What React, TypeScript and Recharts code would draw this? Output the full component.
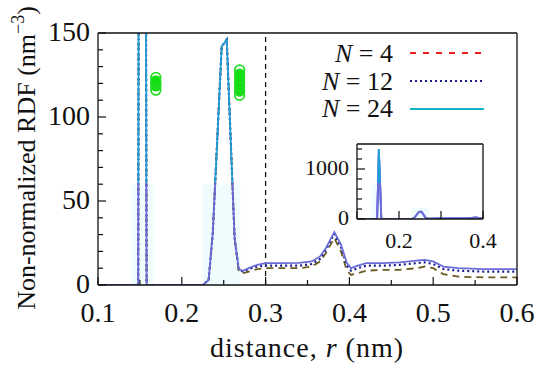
import React from "react";
import {
  ComposedChart,
  Line,
  Scatter,
  XAxis,
  YAxis,
  ReferenceLine,
  ReferenceArea,
} from "recharts";

const FONT = "Liberation Serif, DejaVu Serif, serif";

// r (nm) and RDF values
const rN24 = [0.1, 0.148, 0.152, 0.158, 0.225, 0.232, 0.237, 0.2476, 0.2536, 0.263, 0.268, 0.273, 0.28, 0.29, 0.3, 0.32, 0.34, 0.355, 0.365, 0.372, 0.382, 0.39, 0.397, 0.402, 0.41, 0.42, 0.44, 0.46, 0.48, 0.49, 0.5, 0.512, 0.53, 0.56, 0.6];
const gN24 = [0, 0, 1400, 0, 0, 3, 31, 142, 146, 28, 9.5, 8.5, 10, 12, 13, 13, 13.2, 14, 17, 22, 31.5, 24, 13, 10, 11.5, 13, 13, 13.5, 14.5, 15, 14, 11, 10, 9.5, 9.5];
const rN12 = rN24;
const gN12 = [0, 0, 1390, 0, 0, 3, 31, 142, 146, 28, 9, 8, 9.5, 11, 11.5, 11.5, 11.5, 12.5, 15.5, 21, 30.5, 22.5, 11.5, 8.5, 10, 11.5, 11.5, 12, 13, 13.5, 12.5, 9.5, 8.5, 8, 8];
const rN4 = rN24;
const gN4 = [0, 0, 1380, 0, 0, 3, 31, 142, 146, 27.5, 8, 7, 8, 9.5, 10, 10, 10, 11, 14, 19, 28, 20, 8.5, 6, 7, 8.5, 9, 9, 10, 11, 10, 6.5, 5, 4.5, 4.5];

// green markers
const rOpen = [0.169, 0.169, 0.269, 0.269];
const gOpen = [116, 123.5, 113, 128];
const rFilled = [0.169, 0.169, 0.169, 0.269, 0.269, 0.269, 0.269, 0.269];
const gFilled = [118.5, 120, 121.5, 115.5, 118, 120.5, 123, 125.5];

const xTicks = [0.1, 0.15, 0.2, 0.25, 0.3, 0.35, 0.4, 0.45, 0.5, 0.55, 0.6];
const yTicks = [0, 10, 20, 30, 40, 50, 60, 70, 80, 90, 100, 110, 120, 130, 140, 150];
const insetXTicks = [0.1, 0.2, 0.3, 0.4];
const insetYTicks = [0, 200, 400, 600, 800, 1000, 1200, 1400];

const legendLabels = ["4", "12", "24"];

const pts = (r: number[], g: number[]) => r.map((x, i) => ({ r: x, g: g[i] }));
const n24 = pts(rN24, gN24);
const n12 = pts(rN12, gN12);
const n4 = pts(rN4, gN4);
const openPts = pts(rOpen, gOpen);
const filledPts = pts(rFilled, gFilled);

const isMajorX = (v: number) => Math.abs(v * 10 - Math.round(v * 10)) < 1e-6;

function makeXTick(dir: 1 | -1, size: number, showLabel: (v: number) => boolean, dy: number) {
  return (props: any) => {
    const { x, y, payload } = props;
    const v = payload.value;
    const major = isMajorX(v);
    return (
      <g>
        <line x1={x} x2={x} y1={y} y2={y - dir * (major ? 8 : 5)} stroke="#111" strokeWidth={1.2} />
        {showLabel(v) && (
          <text x={x} y={y + dy} textAnchor="middle" style={{ fontFamily: FONT }} fontSize={size} fill="#111">
            {v.toFixed(1)}
          </text>
        )}
      </g>
    );
  };
}

function makeYTick(dir: 1 | -1, size: number, isMajor: (v: number) => boolean, showLabel: (v: number) => boolean) {
  return (props: any) => {
    const { x, y, payload } = props;
    const v = payload.value;
    return (
      <g>
        <line x1={x} x2={x + dir * (isMajor(v) ? 8 : 5)} y1={y} y2={y} stroke="#111" strokeWidth={1.2} />
        {showLabel(v) && (
          <text x={x - 8} y={y + size * 0.28} textAnchor="end" style={{ fontFamily: FONT }} fontSize={size} fill="#111">
            {v}
          </text>
        )}
      </g>
    );
  };
}

const circle = (filled: boolean) => (props: any) => (
  <circle
    cx={props.cx}
    cy={props.cy}
    r={4.8}
    fill={filled ? "#10e010" : "#fff"}
    stroke="#22dd22"
    strokeWidth={1.8}
  />
);

const axisLine = { stroke: "#111", strokeWidth: 1.3 };
const wrap: React.CSSProperties = { position: "absolute", left: 0, top: 0, width: 550, height: 368 };

function Gradient({ id }: { id: string }) {
  return (
    <defs>
      <linearGradient id={id} x1="0" y1="0" x2="0" y2="368" gradientUnits="userSpaceOnUse">
        <stop offset="0.497" stopColor="#1f9fd8" />
        <stop offset="0.497" stopColor="#6a6cd8" />
      </linearGradient>
    </defs>
  );
}

function MainChart() {
  return (
    <ComposedChart width={550} height={368} margin={{ top: 0, right: 0, bottom: 0, left: 0 }}>
      <Gradient id="g24" />
      <XAxis
        xAxisId={0}
        dataKey="r"
        type="number"
        domain={[0.1, 0.6]}
        ticks={xTicks}
        interval={0}
        height={83}
        tickSize={0}
        tickMargin={0}
        axisLine={axisLine}
        tickLine={false}
        tick={makeXTick(1, 28, isMajorX, 37)}
        allowDataOverflow
      />
      <XAxis
        xAxisId="top"
        orientation="top"
        dataKey="r"
        type="number"
        domain={[0.1, 0.6]}
        ticks={xTicks}
        interval={0}
        height={33}
        tickSize={0}
        tickMargin={0}
        axisLine={axisLine}
        tickLine={false}
        tick={makeXTick(-1, 28, () => false, 0)}
      />
      <YAxis
        yAxisId={0}
        dataKey="g"
        type="number"
        domain={[0, 150]}
        ticks={yTicks}
        interval={0}
        width={98}
        tickSize={0}
        tickMargin={0}
        axisLine={axisLine}
        tickLine={false}
        tick={makeYTick(1, 28, (v) => v % 50 === 0, (v) => v % 50 === 0)}
        allowDataOverflow
      />
      <YAxis
        yAxisId="right"
        orientation="right"
        type="number"
        domain={[0, 150]}
        ticks={yTicks}
        interval={0}
        width={33}
        tickSize={0}
        tickMargin={0}
        axisLine={axisLine}
        tickLine={false}
        tick={makeYTick(-1, 28, (v) => v % 50 === 0, () => false)}
      />
      <ReferenceArea x1={0.14} x2={0.166} y1={0} y2={60} fill="#effcfd" fillOpacity={1} stroke="none" />
      <ReferenceArea x1={0.225} x2={0.27} y1={0} y2={60} fill="#effcfd" fillOpacity={1} stroke="none" />
      <ReferenceLine x={0.3} stroke="#111" strokeWidth={1.3} strokeDasharray="5 4" />
      <Line data={n4} dataKey="g" stroke="#6d5c1f" strokeWidth={1.8} strokeDasharray="7 5" dot={false} isAnimationActive={false} />
      <Line data={n12} dataKey="g" stroke="#1c1c8c" strokeWidth={2.2} strokeDasharray="2 3" dot={false} isAnimationActive={false} />
      <Line data={n24} dataKey="g" stroke="url(#g24)" strokeWidth={1.8} dot={false} isAnimationActive={false} />
      <Scatter data={openPts} dataKey="g" shape={circle(false)} isAnimationActive={false} />
      <Scatter data={filledPts} dataKey="g" shape={circle(true)} isAnimationActive={false} />

      {/* axis titles */}
      <text x={307} y={357} textAnchor="middle" style={{ fontFamily: FONT, letterSpacing: 1 }} fontSize={28} fill="#111">
        distance, <tspan fontStyle="italic">r</tspan> (nm)
      </text>
      <text
        transform="translate(35,158) rotate(-90)"
        textAnchor="middle"
        style={{ fontFamily: FONT }}
        fontSize={26}
        fill="#111"
      >
        Non-normalized RDF (nm<tspan dy={-11} fontSize={18}>−3</tspan>
        <tspan dy={11}>)</tspan>
      </text>

      {/* legend */}
      {legendLabels.map((lab, i) => (
        <text key={lab} x={393} y={62 + i * 27.5} textAnchor="end" style={{ fontFamily: FONT }} fontSize={26} fill="#111">
          <tspan fontStyle="italic">N</tspan> = {lab}
        </text>
      ))}
      <line x1={410} x2={483} y1={53} y2={53} stroke="#ee2020" strokeWidth={1.8} strokeDasharray="6 7" />
      <line x1={410} x2={483} y1={81} y2={81} stroke="#1c1c8c" strokeWidth={2} strokeDasharray="2 3" />
      <line x1={410} x2={484} y1={109} y2={109} stroke="#18b2c8" strokeWidth={2} />
    </ComposedChart>
  );
}

function InsetChart() {
  return (
    <ComposedChart width={550} height={368} margin={{ top: 0, right: 0, bottom: 0, left: 0 }}>
      <Gradient id="g24i" />
      <XAxis
        xAxisId={0}
        dataKey="r"
        type="number"
        domain={[0.1, 0.4]}
        ticks={insetXTicks}
        interval={0}
        height={149}
        tickSize={0}
        tickMargin={0}
        axisLine={axisLine}
        tickLine={false}
        tick={makeXTick(1, 22, (v) => Math.abs(v - 0.2) < 1e-6 || Math.abs(v - 0.4) < 1e-6, 29)}
        allowDataOverflow
      />
      <XAxis
        xAxisId="top"
        orientation="top"
        dataKey="r"
        type="number"
        domain={[0.1, 0.4]}
        ticks={insetXTicks}
        interval={0}
        height={144}
        tickSize={0}
        tickMargin={0}
        axisLine={axisLine}
        tickLine={false}
        tick={makeXTick(-1, 22, () => false, 0)}
      />
      <YAxis
        yAxisId={0}
        dataKey="g"
        type="number"
        domain={[0, 1500]}
        ticks={insetYTicks}
        interval={0}
        width={357}
        tickSize={0}
        tickMargin={0}
        axisLine={axisLine}
        tickLine={false}
        tick={makeYTick(1, 22, (v) => v % 1000 === 0, (v) => v % 1000 === 0)}
        allowDataOverflow
      />
      <YAxis
        yAxisId="right"
        orientation="right"
        type="number"
        domain={[0, 1500]}
        ticks={insetYTicks}
        interval={0}
        width={67}
        tickSize={0}
        tickMargin={0}
        axisLine={axisLine}
        tickLine={false}
        tick={makeYTick(-1, 22, (v) => v % 1000 === 0, () => false)}
      />
      <ReferenceArea x1={0.1} x2={0.4} y1={0} y2={1500} fill="#fff" fillOpacity={1} stroke="none" />
      <ReferenceArea x1={0.135} x2={0.16} y1={0} y2={720} fill="#effcfd" fillOpacity={1} stroke="none" />
      <ReferenceArea x1={0.23} x2={0.27} y1={0} y2={220} fill="#effcfd" fillOpacity={1} stroke="none" />
      <Line data={n4} dataKey="g" stroke="#6a6cd8" strokeWidth={1.8} dot={false} isAnimationActive={false} />
      <Line data={n12} dataKey="g" stroke="#6a6cd8" strokeWidth={1.8} dot={false} isAnimationActive={false} />
      <Line data={n24} dataKey="g" stroke="url(#g24i)" strokeWidth={1.8} dot={false} isAnimationActive={false} />
    </ComposedChart>
  );
}

export default function App() {
  return (
    <div style={{ ...wrap, background: "#fff" }}>
      <div style={wrap}>
        <MainChart />
      </div>
      <div style={{ ...wrap, pointerEvents: "none" }}>
        <InsetChart />
      </div>
    </div>
  );
}
